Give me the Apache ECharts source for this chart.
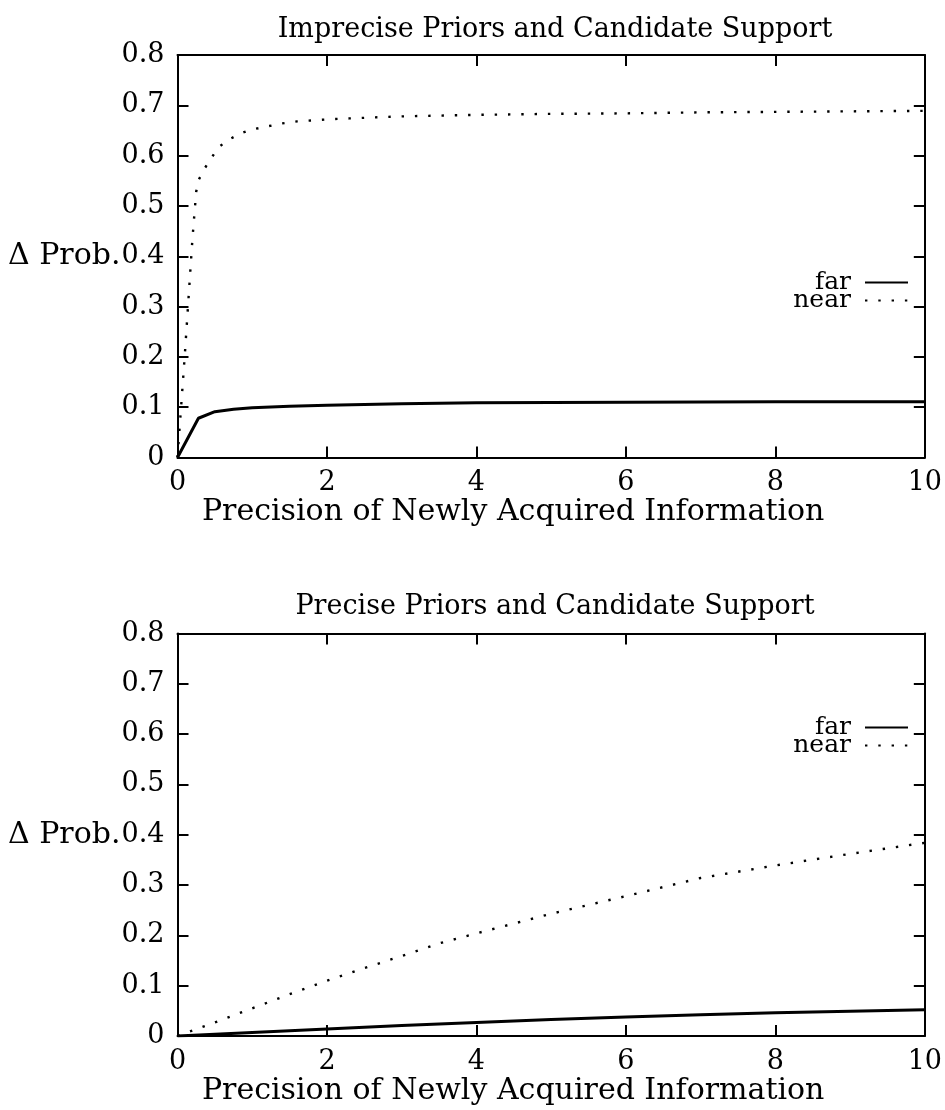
<!DOCTYPE html>
<html>
<head>
<meta charset="utf-8">
<script src="https://cdn.jsdelivr.net/npm/echarts@6/dist/echarts.min.js"></script>
<style>
	body { margin : 0; background : #fff; }
	#chart { width : 945px; height : 1110px; }
</style>
</head>
<body>
<div id="chart"></div>
<script>
// x / y values
var farTopX = [ 0, 0.28, 0.5, 0.75, 1, 1.5, 2, 3, 4, 6, 8, 10 ];
var farTopY = [ 0, 0.078, 0.091, 0.096, 0.099, 0.102, 0.104, 0.107, 0.109, 0.110, 0.111, 0.111 ];
var nearTopX = [ 0, 0.1, 0.2, 0.25, 0.28, 0.37, 0.46, 0.56, 0.7, 0.86, 1.0, 1.2, 1.4, 1.6, 1.8, 2.0, 2.3, 3, 4, 5, 6, 7, 8, 9, 10 ];
var nearTopY = [ 0, 0.209, 0.435, 0.528, 0.551, 0.576, 0.597, 0.618, 0.633, 0.645, 0.652, 0.658, 0.664, 0.668, 0.670, 0.672, 0.674, 0.678, 0.681, 0.683, 0.684, 0.686, 0.687, 0.688, 0.689 ];
var farBotX = [ 0, 1, 2, 3, 4, 5, 6, 7, 8, 9, 10 ];
var farBotY = [ 0, 0.007, 0.014, 0.021, 0.027, 0.033, 0.038, 0.042, 0.046, 0.049, 0.052 ];
var nearBotX = [ 0, 0.5, 1, 1.5, 2, 2.5, 3, 3.5, 4, 5, 6, 7, 8, 9, 10 ];
var nearBotY = [ 0, 0.027, 0.055, 0.083, 0.11, 0.135, 0.159, 0.184, 0.204, 0.243, 0.278, 0.314, 0.339, 0.362, 0.384 ];

var titles = [ 'Imprecise Priors and Candidate Support', 'Precise Priors and Candidate Support' ];
var xName = 'Precision of Newly Acquired Information';
var yName = '\u0394 Prob.';
var seriesNames = [ 'far', 'near' ];

var FONT = 'DejaVu Serif';

function pairs(xs, ys) {
	var out = [];
	for (var i = 0; i < xs.length; i++) {
		out.push([ xs[i], ys[i] ]);
	}
	return out;
}

function xAxisFor(gi, pos) {
	var main = pos === 'bottom';
	return {
		type : 'value',
		gridIndex : gi,
		position : pos,
		min : 0,
		max : 10,
		interval : 2,
		name : main ? xName : '',
		nameLocation : 'middle',
		nameGap : 40,
		nameMoveOverlap : false,
		nameTextStyle : {
			fontFamily : FONT,
			fontSize : 30,
			color : '#000',
			padding : [ 0, 76, 0, 0 ]
		},
		axisLine : { show : true, onZero : false, lineStyle : { color : '#000', width : 2 } },
		axisTick : { show : true, inside : true, length : 11, lineStyle : { color : '#000', width : 2 } },
		axisLabel : { show : main, margin : 12, fontFamily : FONT, fontSize : 27, color : '#000' },
		splitLine : { show : false }
	};
}

function yAxisFor(gi, pos) {
	var main = pos === 'left';
	return {
		type : 'value',
		gridIndex : gi,
		position : pos,
		min : 0,
		max : 0.8,
		interval : 0.1,
		name : main ? yName : '',
		nameLocation : 'middle',
		nameRotate : 0,
		nameGap : 57,
		// keep the label tight against the 0.4 tick label, like the original
		nameMoveOverlap : false,
		nameTextStyle : { fontFamily : FONT, fontSize : 30, color : '#000' },
		axisLine : { show : true, onZero : false, lineStyle : { color : '#000', width : 2 } },
		axisTick : { show : true, inside : true, length : 11, lineStyle : { color : '#000', width : 2 } },
		axisLabel : {
			show : main,
			margin : 13,
			fontFamily : FONT,
			fontSize : 27,
			color : '#000',
			formatter : function(v) {
				return v === 0 ? '0' : v.toFixed(1);
			}
		},
		splitLine : { show : false }
	};
}

function farSeries(gi, data) {
	return {
		name : 'far',
		type : 'line',
		xAxisIndex : gi * 2,
		yAxisIndex : gi * 2,
		symbol : 'none',
		showSymbol : false,
		color : '#000',
		lineStyle : { color : '#000', width : 3 },
		data : data
	};
}

function nearSeries(gi, data) {
	return {
		name : 'near',
		type : 'line',
		xAxisIndex : gi * 2,
		yAxisIndex : gi * 2,
		symbol : 'none',
		showSymbol : false,
		color : '#000',
		// gnuplot style dots
		lineStyle : { color : '#000', width : 2.4, type : [ 2.4, 10.9 ], cap : 'butt' },
		data : data
	};
}

function legendFor(top) {
	return {
		orient : 'vertical',
		align : 'right',
		right : 36,
		top : top,
		padding : 0,
		itemGap : -7,
		itemWidth : 43,
		itemHeight : 16,
		selectedMode : false,
		data : seriesNames,
		// hide the marker that line series put in the legend
		itemStyle : { color : 'transparent', borderWidth : 0, opacity : 0 },
		textStyle : {
			fontFamily : FONT,
			fontSize : 25,
			color : '#000',
			padding : [ 0, 9, 0, 0 ]
		}
	};
}

var option = {
	animation : false,
	backgroundColor : '#fff',
	title : [ {
		text : titles[0],
		left : 550,
		top : 11,
		textAlign : 'center',
		textStyle : { fontFamily : FONT, fontSize : 27, fontWeight : 'normal', color : '#000' }
	}, {
		text : titles[1],
		left : 550,
		top : 588,
		textAlign : 'center',
		textStyle : { fontFamily : FONT, fontSize : 27, fontWeight : 'normal', color : '#000' }
	} ],
	legend : [ legendFor(270), legendFor(715) ],
	grid : [ {
		left : 177.5,
		right : 17,
		top : 55,
		height : 402.5
	}, {
		left : 177.5,
		right : 17,
		top : 633.5,
		height : 402.5
	} ],
	xAxis : [ xAxisFor(0, 'bottom'), xAxisFor(0, 'top'), xAxisFor(1, 'bottom'), xAxisFor(1, 'top') ],
	yAxis : [ yAxisFor(0, 'left'), yAxisFor(0, 'right'), yAxisFor(1, 'left'), yAxisFor(1, 'right') ],
	series : [
		farSeries(0, pairs(farTopX, farTopY)),
		nearSeries(0, pairs(nearTopX, nearTopY)),
		farSeries(1, pairs(farBotX, farBotY)),
		nearSeries(1, pairs(nearBotX, nearBotY))
	]
};

var myChart = echarts.init(document.getElementById('chart'));
myChart.setOption(option);
</script>
</body>
</html>
